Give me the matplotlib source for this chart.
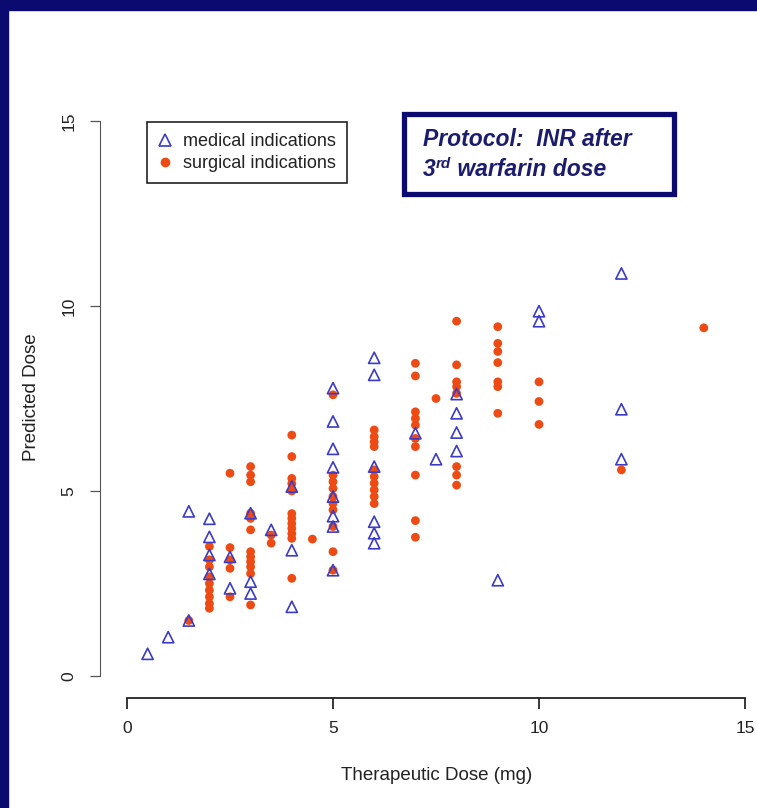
import matplotlib
matplotlib.use("Agg")
import matplotlib.pyplot as plt
from matplotlib.patches import Rectangle
from matplotlib.lines import Line2D
from matplotlib.text import Annotation

plt.rcParams['font.family'] = ['Liberation Sans', 'DejaVu Sans']

# medical indications (triangles)
med_x = [0.5, 1, 1.5, 1.5,
         2, 2, 2, 2,
         2.5, 2.5,
         3, 3, 3,
         3.5,
         4, 4, 4,
         5, 5, 5, 5, 5, 5, 5, 5,
         6, 6, 6, 6, 6, 6,
         7, 7.5,
         8, 8, 8, 8,
         9,
         10, 10,
         12, 12, 12]
med_y = [0.6, 1.05, 1.5, 4.45,
         4.25, 3.76, 3.27, 2.76,
         3.22, 2.37,
         4.4, 2.55, 2.23,
         3.95,
         5.12, 3.4, 1.87,
         7.78, 6.88, 6.14, 5.64, 4.85, 4.32, 4.04, 2.86,
         8.6, 8.14, 5.66, 4.17, 3.86, 3.59,
         6.56, 5.86,
         7.62, 7.1, 6.58, 6.08,
         2.59,
         9.86, 9.59,
         10.88, 7.21, 5.86]

# surgical indications (filled circles)
sur_x = [1.5,
         2, 2, 2, 2, 2, 2, 2, 2, 2,
         2.5, 2.5, 2.5, 2.5, 2.5,
         3, 3, 3, 3, 3, 3, 3, 3, 3, 3, 3, 3,
         3.5, 3.5,
         4, 4, 4, 4, 4, 4, 4, 4, 4, 4, 4, 4,
         4.5,
         5, 5, 5, 5, 5, 5, 5, 5, 5, 5,
         6, 6, 6, 6, 6, 6, 6, 6, 6, 6,
         7, 7, 7, 7, 7, 7, 7, 7, 7, 7,
         7.5,
         8, 8, 8, 8, 8, 8, 8, 8,
         9, 9, 9, 9, 9, 9, 9,
         10, 10, 10,
         12, 14]
sur_y = [1.5,
         3.5, 3.14, 2.95, 2.68, 2.5, 2.32, 2.14, 1.96, 1.83,
         5.48, 3.47, 3.14, 2.91, 2.14,
         5.66, 5.43, 5.25, 4.4, 4.26, 3.95, 3.36, 3.22, 3.09, 2.95, 2.77, 1.92,
         3.81, 3.59,
         6.51, 5.93, 5.34, 5.2, 5.0, 4.39, 4.26, 4.12, 3.99, 3.85, 3.72, 2.64,
         3.7,
         7.6, 5.43, 5.25, 5.07, 4.85, 4.66, 4.49, 4.04, 3.36, 2.86,
         6.65, 6.47, 6.33, 6.2, 5.57, 5.39, 5.21, 5.03, 4.85, 4.66,
         8.45, 8.11, 7.14, 6.96, 6.78, 6.42, 6.2, 5.43, 4.2, 3.75,
         7.5,
         9.59, 8.41, 7.95, 7.82, 7.64, 5.66, 5.43, 5.16,
         9.44, 8.99, 8.77, 8.47, 7.95, 7.82, 7.1,
         7.95, 7.42, 6.8,
         5.57, 9.41]

ticks = [0, 5, 10, 15]
W, H = 757, 808
navy = '#0a0a70'
blue = '#3b3bc8'
orange = '#ee4b14'
txt = '#222222'

fig = plt.figure(figsize=(W / 100, H / 100), dpi=100)
fig.patch.set_facecolor('white')

# slide frame
fig.patches.append(Rectangle((0, 0), 8 / W, 1, transform=fig.transFigure,
                             color=navy, zorder=0))
fig.patches.append(Rectangle((0, 1 - 10 / H), 1, 10 / H, transform=fig.transFigure,
                             color=navy, zorder=0))

ax = fig.add_axes([127 / W, 1 - 676 / H, (745 - 127) / W, (676 - 121) / H])
ax.set_xlim(0, 15)
ax.set_ylim(0, 15)
ax.patch.set_alpha(0)

ax.scatter(sur_x, sur_y, s=40, color=orange, edgecolors='none', zorder=2)
ax.scatter(med_x, med_y, s=65, marker='^', facecolors='none',
           edgecolors=blue, linewidths=1.2, zorder=3)

# R style detached axes
for side in ['top', 'right']:
    ax.spines[side].set_visible(False)
ax.spines['left'].set_position(('outward', 19.5))
ax.spines['bottom'].set_position(('outward', 15.5))
ax.spines['left'].set_bounds(0, 15)
ax.spines['bottom'].set_bounds(0, 15)
ax.spines['left'].set_color('#555555')
ax.spines['bottom'].set_color('#222222')
ax.spines['bottom'].set_linewidth(1.3)
ax.set_xticks(ticks)
ax.set_yticks(ticks)
ax.tick_params(axis='x', length=8, width=1.1, pad=9, labelsize=12.5, labelcolor=txt)
ax.tick_params(axis='y', length=7, width=0.9, color='#555555', pad=10,
               labelsize=12.5, labelcolor=txt)
for lab in ax.get_yticklabels():
    lab.set_rotation(90)
    lab.set_va('center')

fig.text(437 / W, 1 - 775 / H, 'Therapeutic Dose (mg)', ha='center', va='center',
         fontsize=13.5, color=txt)
fig.text(31 / W, 1 - 397 / H, 'Predicted Dose', ha='center', va='center',
         rotation=90, fontsize=13.5, color=txt)

# legend
handles = [Line2D([], [], marker='^', ls='none', markerfacecolor='none',
                  markeredgecolor=blue, markersize=8, markeredgewidth=1.2),
           Line2D([], [], marker='o', ls='none', color=orange, markersize=6)]
leg = ax.legend(handles, ['medical indications', 'surgical indications'],
                loc='upper left', bbox_to_anchor=(147 / W, 1 - 122 / H),
                bbox_transform=fig.transFigure, fancybox=False, framealpha=1,
                edgecolor='#222222', fontsize=13, handlelength=0.8,
                handletextpad=0.6, borderpad=0.6, labelspacing=0.3,
                borderaxespad=0)
leg.get_frame().set_linewidth(1.2)
for t in leg.get_texts():
    t.set_color(txt)

# protocol box
fig.patches.append(Rectangle((404 / W, 1 - 194 / H), 270 / W, 80 / H,
                             transform=fig.transFigure, facecolor='white',
                             edgecolor=navy, linewidth=3.8, zorder=5))
font = dict(fontsize=16.5, fontweight='bold', fontstyle='italic', color='#1c1c6e',
            zorder=6)
fig.text(423 / W, 1 - 139 / H, 'Protocol:  INR after', va='center', **font)
t1 = fig.text(423 / W, 1 - 170 / H, '3', va='center', **font)
t2 = fig.add_artist(Annotation(
    'rd', xy=(1, 0.45), xycoords=t1, va='bottom', ha='left',
    fontsize=11, fontweight='bold', fontstyle='italic', color='#1c1c6e', zorder=6))
fig.add_artist(Annotation(
    ' warfarin dose', xy=(1, 0), xycoords=(t2, t1), va='bottom', ha='left', **font))

fig.savefig('out.png', dpi=100)
